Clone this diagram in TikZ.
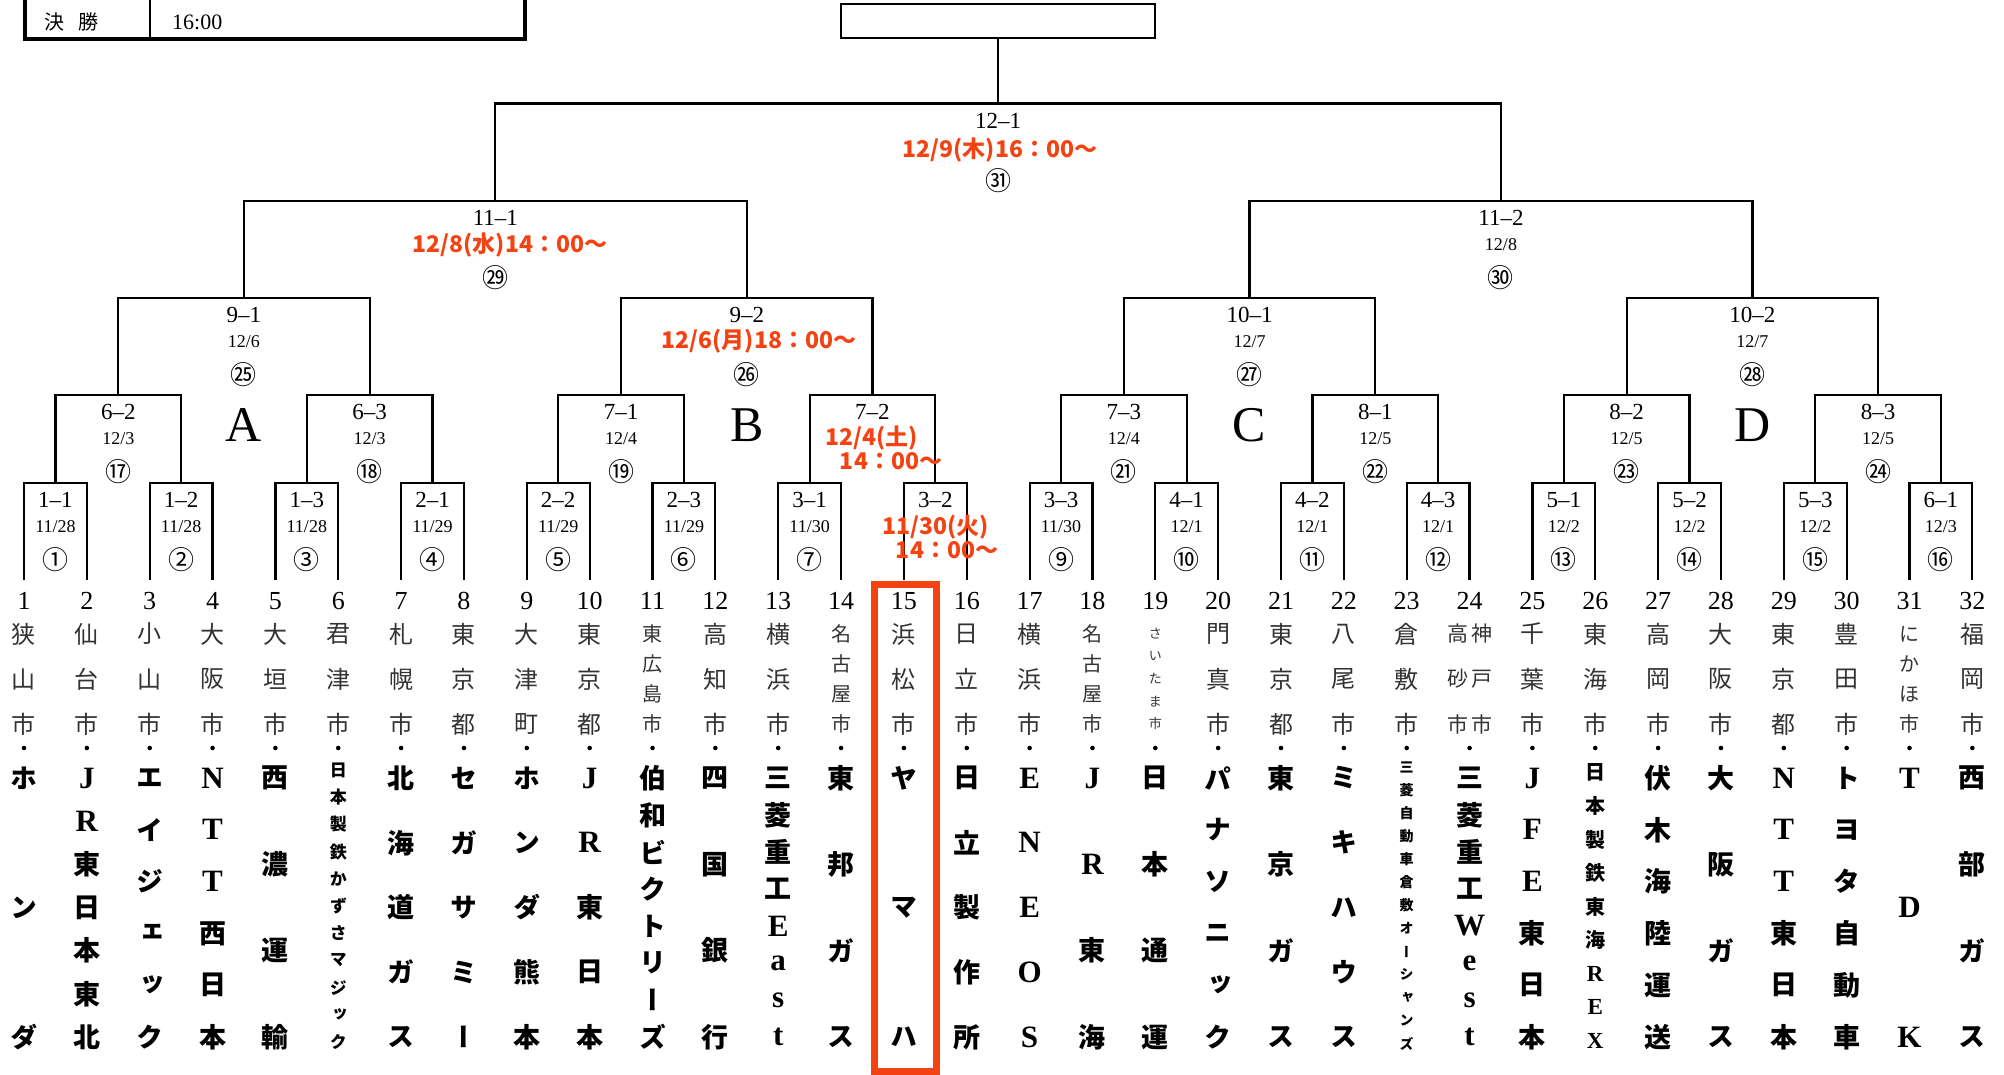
\documentclass[tikz,border=0pt]{standalone}
\usepackage{fontspec}
\setmainfont{Liberation Serif}
\newfontfamily\jp{Noto Sans CJK JP}
\newfontfamily\jpv[RawFeature={+vert}]{Noto Sans CJK JP}
\usetikzlibrary{positioning,calc}
\definecolor{hot}{RGB}{244,67,18}
\newcommand\ltn[1]{\scalebox{1.15}{\rmfamily\bfseries #1}}
\newcommand\fs[1]{\fontsize{#1}{#1}\selectfont}
\tikzset{
  bracket/.style={line width=2.2pt},
  code/.style={inner sep=0pt, font=\fs{23}},
  day/.style={inner sep=0pt, font=\fs{18}},
  circ/.style={inner sep=0pt, font=\jp\fs{26}},
  hotday/.style={inner sep=0pt, text=hot, font=\jp\bfseries\fs{23}},
  block/.style={inner sep=0pt, font=\fs{50}},
  tnum/.style={inner sep=0pt, font=\fs{26}},
  city/.style={inner sep=0pt, text=black!80},
  corp/.style={inner sep=0pt}
}
\newcommand\matchrow[3]{%
  \foreach \cd/\dt/\cn [count=\k] in {#3} {
    \pgfmathsetmacro\mx{24+((\k-1)*2^#1+(2^#1-1)/2)*62.85}
    \pgfmathtruncatemacro\lo{2*\k-1}
    \pgfmathtruncatemacro\hi{2*\k}
    \pgfmathtruncatemacro\pr{#1-1}
    \coordinate (m#1-\k) at (\mx,#2);
    \ifnum#1=1\relax
      \draw[bracket] (t\lo) |- (m#1-\k) -| (t\hi);
    \else
      \draw[bracket] (m\pr-\lo) |- (m#1-\k) -| (m\pr-\hi);
    \fi
    \node[code] (c#1-\k) at ($(m#1-\k)+(0,17)$) {\cd};
    \if\relax\detokenize\expandafter{\dt}\relax\else
      \node[day] (d#1-\k) at ($(m#1-\k)+(0,44)$) {\dt};
    \fi
    \if\relax\detokenize\expandafter{\cn}\relax\else
      \node[circ] (o#1-\k) at ($(m#1-\k)+(0,77)$) {\cn};
    \fi
  }%
}
\begin{document}
\begin{tikzpicture}[x=1pt,y=-1pt]
\useasboundingbox (0,0) rectangle (2004,1075);
\draw[line width=3.5pt] (25,0) -- (25,39) -- (525,39) -- (525,0);
\draw[line width=1.2pt] (150,0) -- (150,39);
\node[inner sep=0pt, font=\jp\fs{20}] (kessho) at (71,22) {決\hspace{14pt}勝};
\node[inner sep=0pt, font=\fs{22}, anchor=west] (ktime) at (172,22) {16:00};
\foreach \i/\cty/\cmp/\s in {
  1/{狭,山,市}/{ホ,ン,ダ}/27,
  2/{仙,台,市}/{\ltn{J},\ltn{R},東,日,本,東,北}/27,
  3/{小,山,市}/{エ,イ,ジ,ェ,ッ,ク}/27,
  4/{大,阪,市}/{\ltn{N},\ltn{T},\ltn{T},西,日,本}/27,
  5/{大,垣,市}/{西,濃,運,輸}/27,
  6/{君,津,市}/{日,本,製,鉄,か,ず,さ,マ,ジ,ッ,ク}/17,
  7/{札,幌,市}/{北,海,道,ガ,ス}/27,
  8/{東,京,都}/{セ,ガ,サ,ミ,ー}/27,
  9/{大,津,町}/{ホ,ン,ダ,熊,本}/27,
  10/{東,京,都}/{\ltn{J},\ltn{R},東,日,本}/27,
  11/{東,広,島,市}/{伯,和,ビ,ク,ト,リ,ー,ズ}/27,
  12/{高,知,市}/{四,国,銀,行}/27,
  13/{横,浜,市}/{三,菱,重,工,\ltn{E},\ltn{a},\ltn{s},\ltn{t}}/27,
  14/{名,古,屋,市}/{東,邦,ガ,ス}/27,
  15/{浜,松,市}/{ヤ,マ,ハ}/27,
  16/{日,立,市}/{日,立,製,作,所}/27,
  17/{横,浜,市}/{\ltn{E},\ltn{N},\ltn{E},\ltn{O},\ltn{S}}/27,
  18/{名,古,屋,市}/{\ltn{J},\ltn{R},東,海}/27,
  19/{さ,い,た,ま,市}/{日,本,通,運}/27,
  20/{門,真,市}/{パ,ナ,ソ,ニ,ッ,ク}/27,
  21/{東,京,都}/{東,京,ガ,ス}/27,
  22/{八,尾,市}/{ミ,キ,ハ,ウ,ス}/27,
  23/{倉,敷,市}/{三,菱,自,動,車,倉,敷,オ,ー,シ,ャ,ン,ズ}/14,
  24/{{\fs{21}高\hspace{3pt}神},{\fs{21}砂\hspace{3pt}戸},{\fs{21}市\hspace{3pt}市}}/{三,菱,重,工,\ltn{W},\ltn{e},\ltn{s},\ltn{t}}/27,
  25/{千,葉,市}/{\ltn{J},\ltn{F},\ltn{E},東,日,本}/27,
  26/{東,海,市}/{日,本,製,鉄,東,海,\ltn{R},\ltn{E},\ltn{X}}/20,
  27/{高,岡,市}/{伏,木,海,陸,運,送}/27,
  28/{大,阪,市}/{大,阪,ガ,ス}/27,
  29/{東,京,都}/{\ltn{N},\ltn{T},\ltn{T},東,日,本}/27,
  30/{豊,田,市}/{ト,ヨ,タ,自,動,車}/27,
  31/{に,か,ほ,市}/{\ltn{T},\ltn{D},\ltn{K}}/27,
  32/{福,岡,市}/{西,部,ガ,ス}/27} {
  \pgfmathsetmacro\tx{24+(\i-1)*62.85}
  \coordinate (t\i) at (\tx,580);
  \node[tnum] (n\i) at (\tx,601) {\i};
  \foreach \ch [count=\k] in \cty {\xdef\ncty{\k}}
  \pgfmathsetmacro\cs{\ncty==3 ? 24 : (\ncty==4 ? 20 : 13)}
  \foreach \ch [count=\k] in \cty
    \node[city, font=\jp\fs{\cs}] (ci\i-\k) at (\tx,{634+(\k-1)*90/(\ncty-1)}) {\ch};
  \fill (\tx,748) circle (2.3);
  \foreach \ch [count=\k] in \cmp {\xdef\ncmp{\k}}
  \pgfmathsetmacro\ya{778-(27-\s)*0.8}
  \pgfmathsetmacro\yb{1037+(27-\s)*0.5}
  \foreach \ch [count=\k] in \cmp
    \node[corp, font=\jpv\bfseries\fs{\s}] (co\i-\k) at (\tx,{\ya+(\k-1)*(\yb-\ya)/(\ncmp-1)}) {\ch};
}
\matchrow{1}{483}{1--1/{11/28}/①, 1--2/{11/28}/②, 1--3/{11/28}/③, 2--1/{11/29}/④,
  2--2/{11/29}/⑤, 2--3/{11/29}/⑥, 3--1/{11/30}/⑦, 3--2/{}/{},
  3--3/{11/30}/⑨, 4--1/{12/1}/⑩, 4--2/{12/1}/⑪, 4--3/{12/1}/⑫,
  5--1/{12/2}/⑬, 5--2/{12/2}/⑭, 5--3/{12/2}/⑮, 6--1/{12/3}/⑯}
\matchrow{2}{395}{6--2/{12/3}/⑰, 6--3/{12/3}/⑱, 7--1/{12/4}/⑲, 7--2/{}/{},
  7--3/{12/4}/㉑, 8--1/{12/5}/㉒, 8--2/{12/5}/㉓, 8--3/{12/5}/㉔}
\matchrow{3}{298}{9--1/{12/6}/㉕, 9--2/{}/㉖, 10--1/{12/7}/㉗, 10--2/{12/7}/㉘}
\matchrow{4}{201}{11--1/{}/㉙, 11--2/{12/8}/㉚}
\matchrow{5}{103.5}{12--1/{}/㉛}
\node[draw, bracket, minimum width=314pt, minimum height=34pt, inner sep=0pt] (fin) at ($(m5-1)+(0,-82.5)$) {};
\draw[bracket] (fin.south) -- (m5-1);
\node[hotday] (h12-1) at (1000,150) {12/9(木)16：00～};
\node[hotday] (h11-1) at (510,245) {12/8(水)14：00～};
\node[hotday] (h9-2) at (759,341) {12/6(月)18：00～};
\node[hotday] (h7-2a) at (872,438) {12/4(土)};
\node[hotday] (h7-2b) at (891,461) {14：00～};
\node[hotday] (h3-2a) at (936,527) {11/30(火)};
\node[hotday] (h3-2b) at (947,550) {14：00～};
\foreach \g/\gx in {A/244,B/746.8,C/1249.6,D/1752.4}
  \node[block] (g\g) at (\gx,425) {\g};
\draw[hot, line width=7pt] (874.5,584) rectangle (936.5,1071);
\end{tikzpicture}
\end{document}
